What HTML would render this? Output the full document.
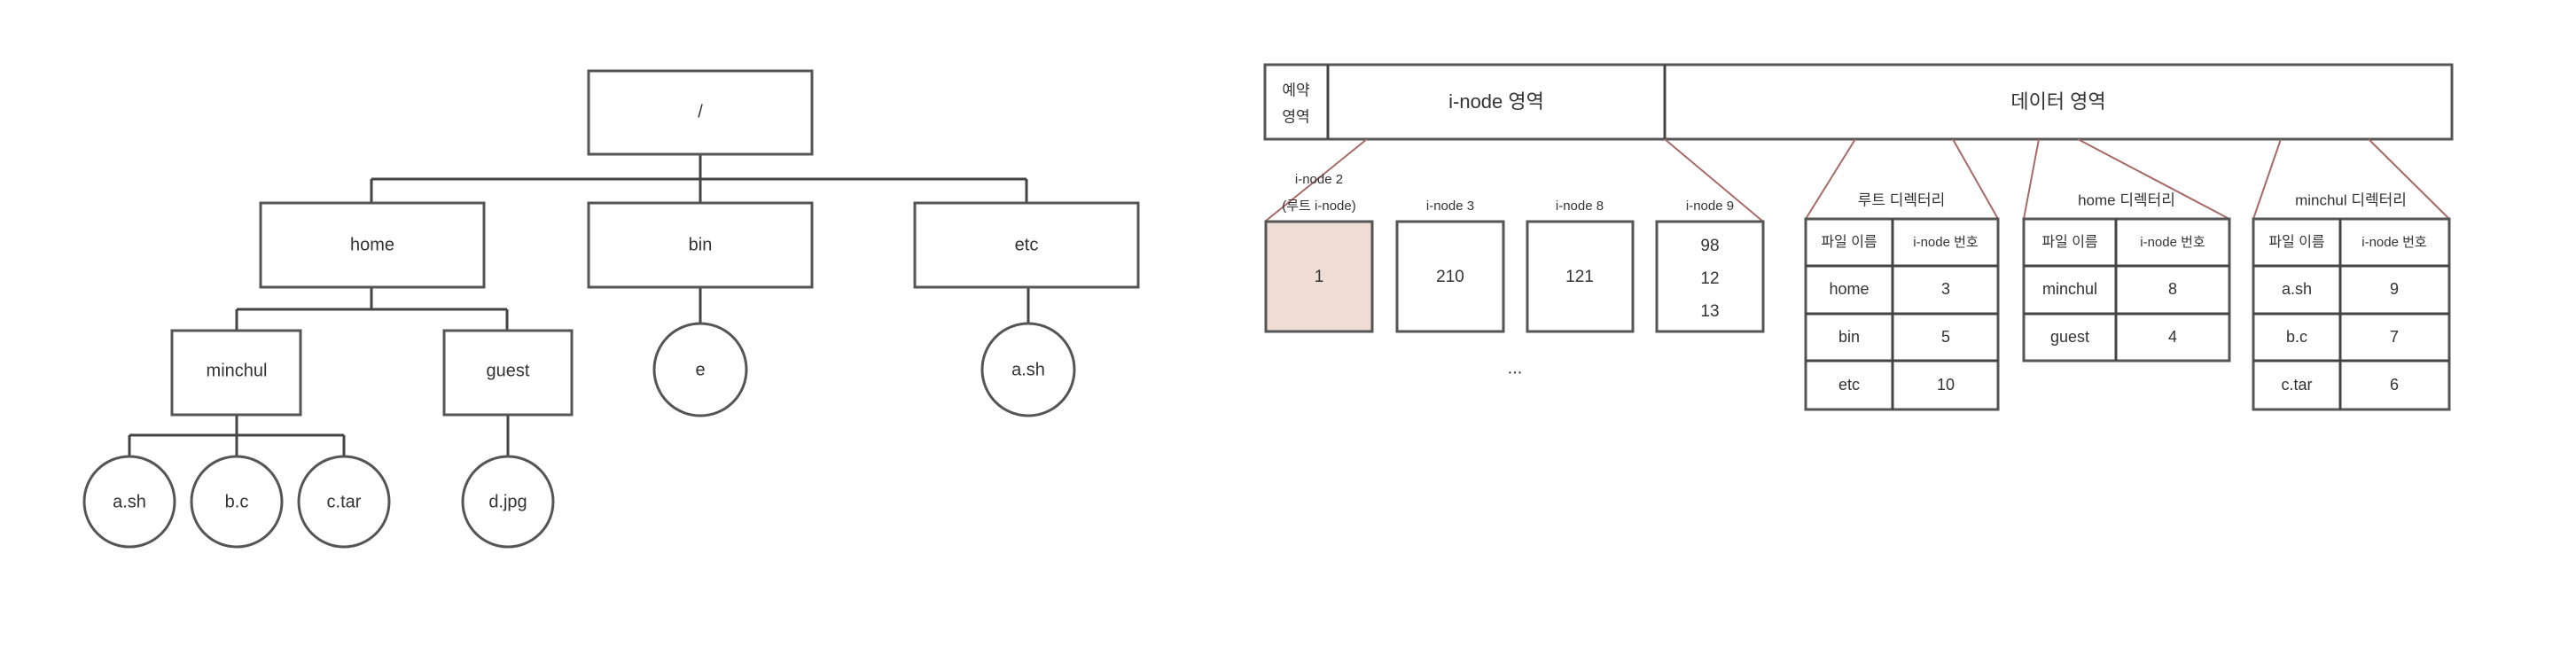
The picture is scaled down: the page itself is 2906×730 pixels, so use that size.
<!DOCTYPE html>
<html><head><meta charset="utf-8"><style>
html,body{margin:0;padding:0;background:#fff;}
svg{display:block;font-family:"Liberation Sans","Noto Sans CJK KR",sans-serif;}
text{fill:#333;text-anchor:middle;dominant-baseline:middle;}
.b{fill:#fff;stroke:#555;stroke-width:3;}
.l{stroke:#444;stroke-width:3;fill:none;}
.r{stroke:#a86a66;stroke-width:2;fill:none;}
</style></head><body>
<svg width="2906" height="730" viewBox="0 0 2906 730">
<g font-size="20">
  <path class="l" d="M790 174V202M419 202H1158M419 202V229M790 202V229M1158 202V229M419 324V349M267 349H572M267 349V373M572 349V373M790 324V366M1160 324V366M267 468V491M146 491H388M146 491V515M267 491V515M388 491V515M573 468V515"/>
  <rect class="b" x="664" y="80" width="252" height="94"/><text x="790" y="127">/</text>
  <rect class="b" x="294" y="229" width="252" height="95"/><text x="420" y="277">home</text>
  <rect class="b" x="664" y="229" width="252" height="95"/><text x="790" y="277">bin</text>
  <rect class="b" x="1032" y="229" width="252" height="95"/><text x="1158" y="277">etc</text>
  <rect class="b" x="194" y="373" width="145" height="95"/><text x="267" y="419">minchul</text>
  <rect class="b" x="501" y="373" width="144" height="95"/><text x="573" y="419">guest</text>
  <circle class="b" cx="790" cy="417" r="52"/><text x="790" y="418">e</text>
  <circle class="b" cx="1160" cy="417" r="52"/><text x="1160" y="418">a.sh</text>
  <circle class="b" cx="146" cy="566" r="51"/><text x="146" y="567">a.sh</text>
  <circle class="b" cx="267" cy="566" r="51"/><text x="267" y="567">b.c</text>
  <circle class="b" cx="388" cy="566" r="51"/><text x="388" y="567">c.tar</text>
  <circle class="b" cx="573" cy="566" r="51"/><text x="573" y="567">d.jpg</text>
</g>
<g>
  <rect class="b" x="1427" y="73" width="1339" height="84"/>
  <path class="l" d="M1498 73V157M1878 73V157"/>
  <text x="1462" y="103" font-size="17">예약</text><text x="1462" y="133" font-size="17">영역</text>
  <text x="1688" y="116" font-size="22">i-node 영역</text>
  <text x="2322" y="116" font-size="22">데이터 영역</text>
  <path class="r" d="M1542 157L1427 250M1878 157L1989 250M2093 157L2037 247M2203 157L2254 247M2300 157L2283 247M2344 157L2515 247M2573 157L2542 247M2672 157L2763 247"/>
</g>
<g>
  <text x="1488" y="203" font-size="15">i-node 2</text>
  <text x="1488" y="233" font-size="15">(루트 i-node)</text>
  <text x="1636" y="233" font-size="15">i-node 3</text>
  <text x="1782" y="233" font-size="15">i-node 8</text>
  <text x="1929" y="233" font-size="15">i-node 9</text>
  <rect class="b" x="1428" y="250" width="120" height="124" style="fill:#efdcd5"/><text x="1488" y="313" font-size="19">1</text>
  <rect class="b" x="1576" y="250" width="120" height="124"/><text x="1636" y="313" font-size="19">210</text>
  <rect class="b" x="1723" y="250" width="119" height="124"/><text x="1782" y="313" font-size="19">121</text>
  <rect class="b" x="1869" y="250" width="120" height="124"/>
  <text x="1929" y="278" font-size="19">98</text><text x="1929" y="315" font-size="19">12</text><text x="1929" y="352" font-size="19">13</text>
  <text x="1709" y="416" font-size="20">...</text>
</g>
<g font-size="18">
  <text x="2145" y="227" font-size="17">루트 디렉터리</text>
  <rect class="b" x="2037" y="247" width="217" height="215"/>
  <path class="l" d="M2135 247V462M2037 300H2254M2037 354H2254M2037 407H2254"/>
  <text x="2086" y="274" font-size="16">파일 이름</text><text x="2195" y="274" font-size="15">i-node 번호</text>
  <text x="2086" y="327">home</text><text x="2195" y="327">3</text>
  <text x="2086" y="381">bin</text><text x="2195" y="381">5</text>
  <text x="2086" y="435">etc</text><text x="2195" y="435">10</text>
</g>
<g font-size="18">
  <text x="2399" y="227" font-size="17">home 디렉터리</text>
  <rect class="b" x="2283" y="247" width="232" height="160"/>
  <path class="l" d="M2387 247V407M2283 300H2515M2283 354H2515"/>
  <text x="2335" y="274" font-size="16">파일 이름</text><text x="2451" y="274" font-size="15">i-node 번호</text>
  <text x="2335" y="327">minchul</text><text x="2451" y="327">8</text>
  <text x="2335" y="381">guest</text><text x="2451" y="381">4</text>
</g>
<g font-size="18">
  <text x="2652" y="227" font-size="17">minchul 디렉터리</text>
  <rect class="b" x="2542" y="247" width="221" height="215"/>
  <path class="l" d="M2640 247V462M2542 300H2763M2542 354H2763M2542 407H2763"/>
  <text x="2591" y="274" font-size="16">파일 이름</text><text x="2701" y="274" font-size="15">i-node 번호</text>
  <text x="2591" y="327">a.sh</text><text x="2701" y="327">9</text>
  <text x="2591" y="381">b.c</text><text x="2701" y="381">7</text>
  <text x="2591" y="435">c.tar</text><text x="2701" y="435">6</text>
</g>
</svg>
</body></html>
